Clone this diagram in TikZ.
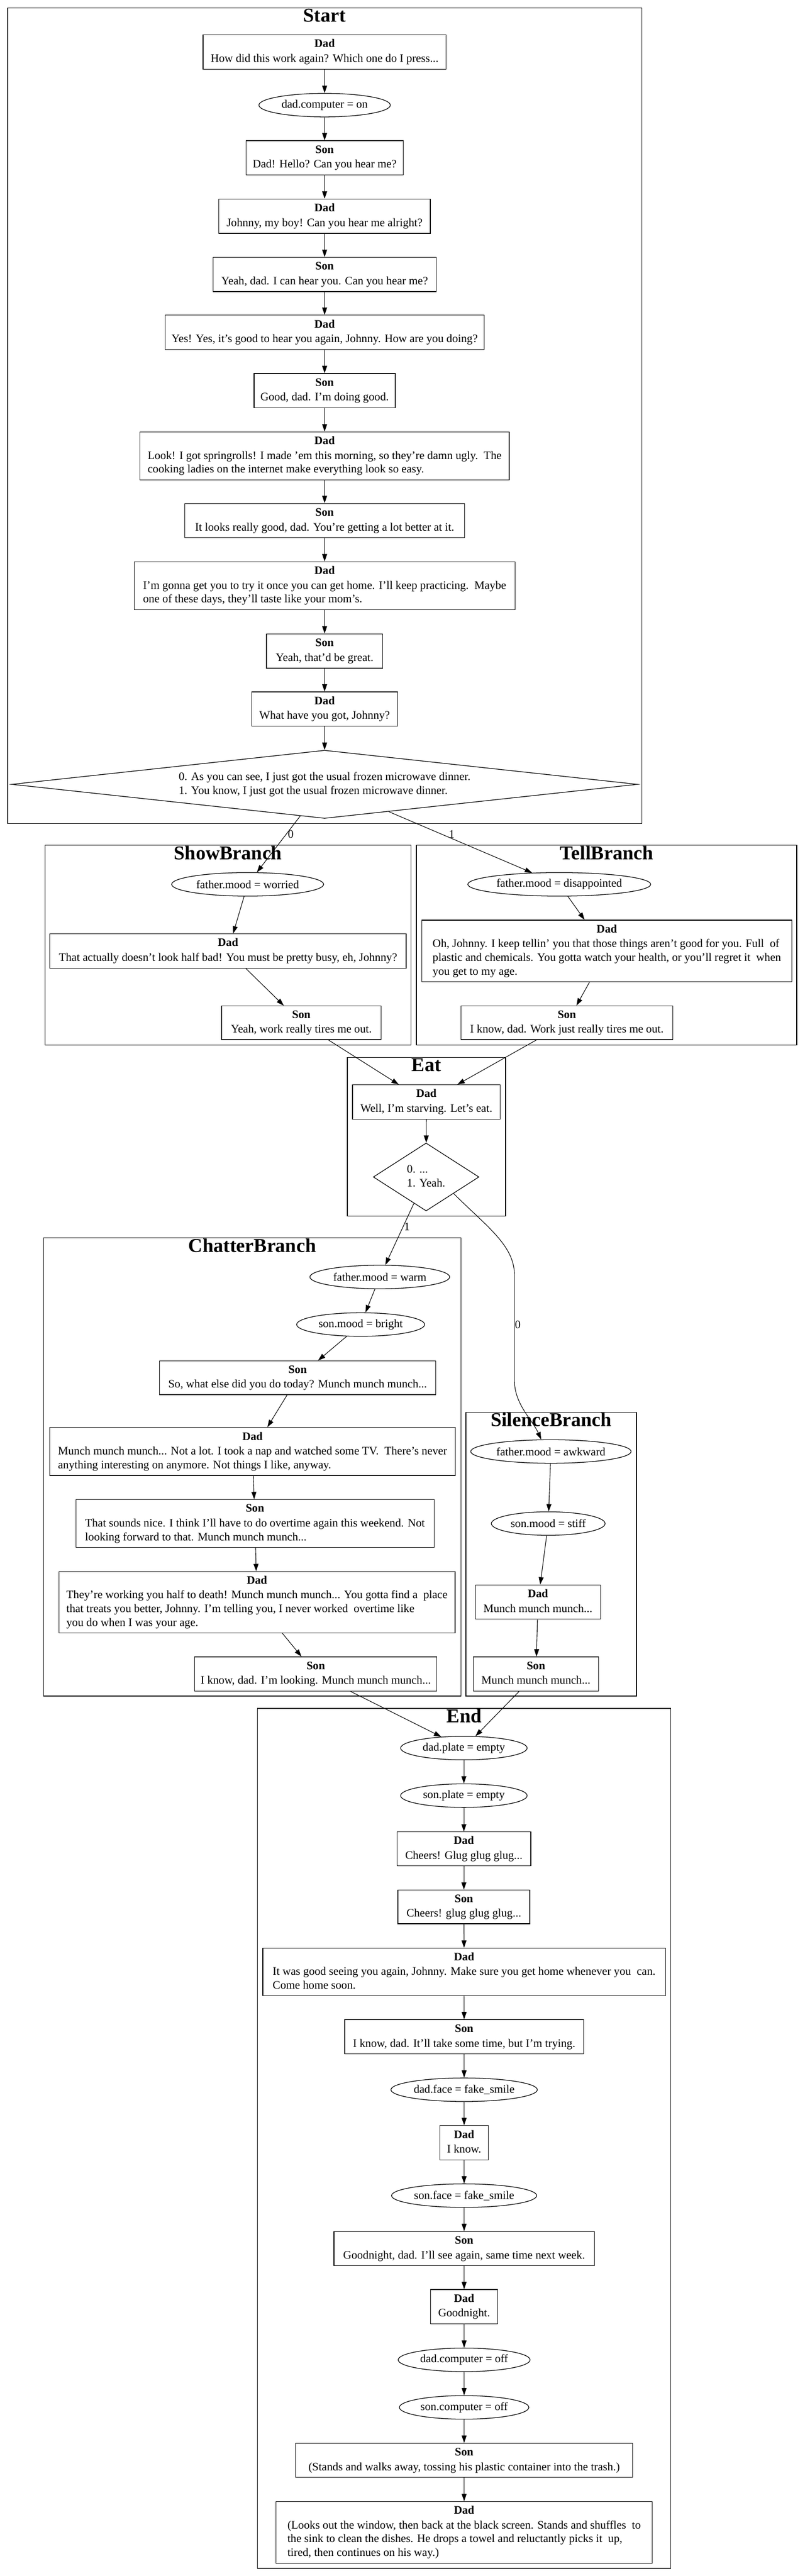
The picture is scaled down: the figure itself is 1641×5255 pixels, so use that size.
\documentclass[tikz,border=0pt]{standalone}
\usepackage{fontspec}
\setmainfont{Liberation Serif}
\usetikzlibrary{shapes.geometric,arrows.meta}
\newcommand{\spkc}[2]{\begin{tabular}{@{}c@{}}\textbf{#1}\\[1.2pt]#2\end{tabular}}
\newcommand{\spkl}[2]{\begin{tabular}{@{}l@{}}\multicolumn{1}{@{}c@{}}{\textbf{#1}}\\[1.2pt]#2\end{tabular}}
\begin{document}
\begin{tikzpicture}[x=0.6pt,y=-0.6pt,
 every node/.style={font=\fontsize{14}{16.8}\selectfont},
 box/.style={draw, rectangle, inner sep=0pt, line width=0.8pt},
 ell/.style={draw, ellipse, inner sep=0pt, line width=0.8pt, minimum height=28.8pt},
 dia/.style={draw, diamond, inner sep=0pt, line width=0.8pt},
 sz/.style 2 args={minimum width=#1*0.6pt, minimum height=#2*0.6pt},
 ew/.style={minimum width=#1*0.6pt},
 arr/.style={draw, line width=0.7pt, -{Triangle[length=9pt,width=6pt]}},
 clu/.style={draw, line width=0.9pt},
 ttl/.style={font=\fontsize{24}{28}\selectfont\bfseries, anchor=base, inner sep=0pt},
 lbl/.style={inner sep=0pt}
]
\useasboundingbox (0,0) rectangle (1641,5255);

% clusters
\draw[clu] (15.7,16) rectangle (1309,1680);
\node[ttl] (tStart) at (662,45) {Start};
\draw[clu] (92,1724) rectangle (838,2132);
\node[ttl] (tShow) at (465,1754) {ShowBranch};
\draw[clu] (849,1724) rectangle (1625,2132);
\node[ttl] (tTell) at (1237,1754) {TellBranch};
\draw[clu] (708.5,2157) rectangle (1031,2481);
\node[ttl] (tEat) at (869.5,2186) {Eat};
\draw[clu] (89,2525) rectangle (940,3460);
\node[ttl] (tChat) at (514.5,2554) {ChatterBranch};
\draw[clu] (950,2881) rectangle (1298,3460);
\node[ttl] (tSil) at (1124,2910) {SilenceBranch};
\draw[clu] (525,3485) rectangle (1368,5239);
\node[ttl] (tEnd) at (946.5,3514) {End};

% Start
\node[box,sz={496}{70}] (d1) at (662,106) {\spkc{Dad}{How did this work again? Which one do I press...}};
\node[ell,ew=268] (e1) at (662,214.5) {dad.computer = on};
\node[box,sz={321}{70}] (s1) at (662,322) {\spkc{Son}{Dad! Hello? Can you hear me?}};
\node[box,sz={431}{70}] (d2) at (662,441) {\spkc{Dad}{Johnny, my boy! Can you hear me alright?}};
\node[box,sz={455}{70}] (s2) at (662,560) {\spkc{Son}{Yeah, dad. I can hear you. Can you hear me?}};
\node[box,sz={651}{70}] (d3) at (662,678) {\spkc{Dad}{Yes! Yes, it's good to hear you again, Johnny. How are you doing?}};
\node[box,sz={288}{70}] (s3) at (662,797) {\spkc{Son}{Good, dad. I'm doing good.}};
\node[box,sz={753}{98}] (d4) at (662,930) {\spkl{Dad}{Look! I got springrolls! I made 'em this morning, so they're damn ugly.\ \ The\\cooking ladies on the internet make everything look so easy.}};
\node[box,sz={571}{70}] (s4) at (662,1062) {\spkc{Son}{It looks really good, dad. You're getting a lot better at it.}};
\node[box,sz={777}{98}] (d5) at (662,1195) {\spkl{Dad}{I'm gonna get you to try it once you can get home. I'll keep practicing.\ \ Maybe\\one of these days, they'll taste like your mom's.}};
\node[box,sz={237}{70}] (s5) at (662,1328) {\spkc{Son}{Yeah, that'd be great.}};
\node[box,sz={297}{70}] (d6) at (662,1446.5) {\spkc{Dad}{What have you got, Johnny?}};
\node[dia,sz={1276}{139},aspect=9.2] (q1) at (662,1600) {\begin{tabular}{@{}l@{}}0. As you can see, I just got the usual frozen microwave dinner.\\1. You know, I just got the usual frozen microwave dinner.\end{tabular}};

% ShowBranch
\node[ell,ew=310] (e2) at (505,1804) {father.mood = worried};
\node[box,sz={726.5}{70}] (d7) at (465,1940) {\spkc{Dad}{That actually doesn't look half bad! You must be pretty busy, eh, Johnny?}};
\node[box,sz={325}{69}] (s6) at (614.5,2086.5) {\spkc{Son}{Yeah, work really tires me out.}};

% TellBranch
\node[ell,ew=373] (e3) at (1140.5,1804) {father.mood = disappointed};
\node[box,sz={755}{126}] (d8) at (1237.5,1940) {\spkl{Dad}{Oh, Johnny. I keep tellin' you that those things aren't good for you. Full\ \ of\\plastic and chemicals. You gotta watch your health, or you'll regret it\ \ when\\you get to my age.}};
\node[box,sz={432}{69}] (s7) at (1156,2086.5) {\spkc{Son}{I know, dad. Work just really tires me out.}};

% Eat
\node[box,sz={301}{70}] (d9) at (869.5,2248) {\spkc{Dad}{Well, I'm starving. Let's eat.}};
\node[dia,sz={215.5}{138.5},aspect=1.56] (q2) at (869,2401) {\begin{tabular}{@{}l@{}}0. ...\\1. Yeah.\end{tabular}};

% ChatterBranch
\node[ell,ew=285] (e4) at (774.5,2605) {father.mood = warm};
\node[ell,ew=261] (e5) at (735.5,2702) {son.mood = bright};
\node[box,sz={563}{69}] (s8) at (607,2810.5) {\spkc{Son}{So, what else did you do today? Munch munch munch...}};
\node[box,sz={826.5}{98}] (d10) at (515,2961) {\spkl{Dad}{Munch munch munch... Not a lot. I took a nap and watched some TV.\ \ There's never\\anything interesting on anymore. Not things I like, anyway.}};
\node[box,sz={730.5}{98}] (s9) at (520,3108) {\spkl{Son}{That sounds nice. I think I'll have to do overtime again this weekend. Not\\looking forward to that. Munch munch munch...}};
\node[box,sz={808}{125}] (d11) at (524,3268.5) {\spkl{Dad}{They're working you half to death! Munch munch munch... You gotta find a\ \ place\\that treats you better, Johnny. I'm telling you, I never worked\ \ overtime like\\you do when I was your age.}};
\node[box,sz={494}{70}] (s10) at (644,3415) {\spkc{Son}{I know, dad. I'm looking. Munch munch munch...}};

% SilenceBranch
\node[ell,ew=327] (e6) at (1123.5,2961) {father.mood = awkward};
\node[ell,ew=232] (e7) at (1118,3108) {son.mood = stiff};
\node[box,sz={255.5}{70}] (d12) at (1097,3268) {\spkc{Dad}{Munch munch munch...}};
\node[box,sz={256}{70}] (s11) at (1093,3415) {\spkc{Son}{Munch munch munch...}};

% End
\node[ell,ew=258] (e8) at (946,3566) {dad.plate = empty};
\node[ell,ew=258] (e9) at (946,3663) {son.plate = empty};
\node[box,sz={273}{69}] (d13) at (946,3771.5) {\spkc{Dad}{Cheers! Glug glug glug...}};
\node[box,sz={269}{69}] (s12) at (946,3890) {\spkc{Son}{Cheers! glug glug glug...}};
\node[box,sz={821}{97}] (d14) at (946.5,4022.5) {\spkl{Dad}{It was good seeing you again, Johnny. Make sure you get home whenever you\ \ can.\\Come home soon.}};
\node[box,sz={487}{70}] (s13) at (946.5,4155) {\spkc{Son}{I know, dad. It'll take some time, but I'm trying.}};
\node[ell,ew=298.5] (e10) at (946.5,4263) {dad.face = fake\_smile};
\node[box,sz={99}{70}] (d15) at (946.5,4371) {\spkc{Dad}{I know.}};
\node[ell,ew=296] (e11) at (946.5,4479) {son.face = fake\_smile};
\node[box,sz={531}{70}] (s14) at (946.5,4587) {\spkc{Son}{Goodnight, dad. I'll see again, same time next week.}};
\node[box,sz={137}{70}] (d16) at (946.5,4705.5) {\spkc{Dad}{Goodnight.}};
\node[ell,ew=269] (e12) at (946.5,4814) {dad.computer = off};
\node[ell,ew=264] (e13) at (946.5,4911) {son.computer = off};
\node[box,sz={687}{70}] (s15) at (946.5,5019) {\spkc{Son}{(Stands and walks away, tossing his plastic container into the trash.)}};
\node[box,sz={767}{126}] (d17) at (946.5,5166) {\spkl{Dad}{(Looks out the window, then back at the black screen. Stands and shuffles\ \ to\\the sink to clean the dishes. He drops a towel and reluctantly picks it\ \ up,\\tired, then continues on his way.)}};

% edges: Start
\draw[arr] (d1) -- (e1);
\draw[arr] (e1) -- (s1);
\draw[arr] (s1) -- (d2);
\draw[arr] (d2) -- (s2);
\draw[arr] (s2) -- (d3);
\draw[arr] (d3) -- (s3);
\draw[arr] (s3) -- (d4);
\draw[arr] (d4) -- (s4);
\draw[arr] (s4) -- (d5);
\draw[arr] (d5) -- (s5);
\draw[arr] (s5) -- (d6);
\draw[arr] (d6) -- (q1);
\draw[arr] (q1) -- (e2);
\draw[arr] (q1) -- (e3);
\node[lbl] (lq1a) at (593,1702) {0};
\node[lbl] (lq1b) at (921,1702) {1};
% branches
\draw[arr] (e2) -- (d7);
\draw[arr] (d7) -- (s6);
\draw[arr] (e3) -- (d8);
\draw[arr] (d8) -- (s7);
\draw[arr] (s6) -- (d9);
\draw[arr] (s7) -- (d9);
\draw[arr] (d9) -- (q2);
\draw[arr] (q2) -- (e4);
\node[lbl] (lq2a) at (830,2503) {1};
\draw[arr] (q2.-31) .. controls (990,2500) and (1049,2540) .. (1049,2600) -- (1049,2815) .. controls (1049,2865) and (1085,2895) .. (e6.129);
\node[lbl] (lq2b) at (1056,2702) {0};
% chatter
\draw[arr] (e4) -- (e5);
\draw[arr] (e5) -- (s8);
\draw[arr] (s8) -- (d10);
\draw[arr] (d10) -- (s9);
\draw[arr] (s9) -- (d11);
\draw[arr] (d11) -- (s10);
% silence
\draw[arr] (e6) -- (e7);
\draw[arr] (e7) -- (d12);
\draw[arr] (d12) -- (s11);
% end
\draw[arr] (s10) -- (e8);
\draw[arr] (s11) -- (e8);
\draw[arr] (e8) -- (e9);
\draw[arr] (e9) -- (d13);
\draw[arr] (d13) -- (s12);
\draw[arr] (s12) -- (d14);
\draw[arr] (d14) -- (s13);
\draw[arr] (s13) -- (e10);
\draw[arr] (e10) -- (d15);
\draw[arr] (d15) -- (e11);
\draw[arr] (e11) -- (s14);
\draw[arr] (s14) -- (d16);
\draw[arr] (d16) -- (e12);
\draw[arr] (e12) -- (e13);
\draw[arr] (e13) -- (s15);
\draw[arr] (s15) -- (d17);
\end{tikzpicture}
\end{document}
